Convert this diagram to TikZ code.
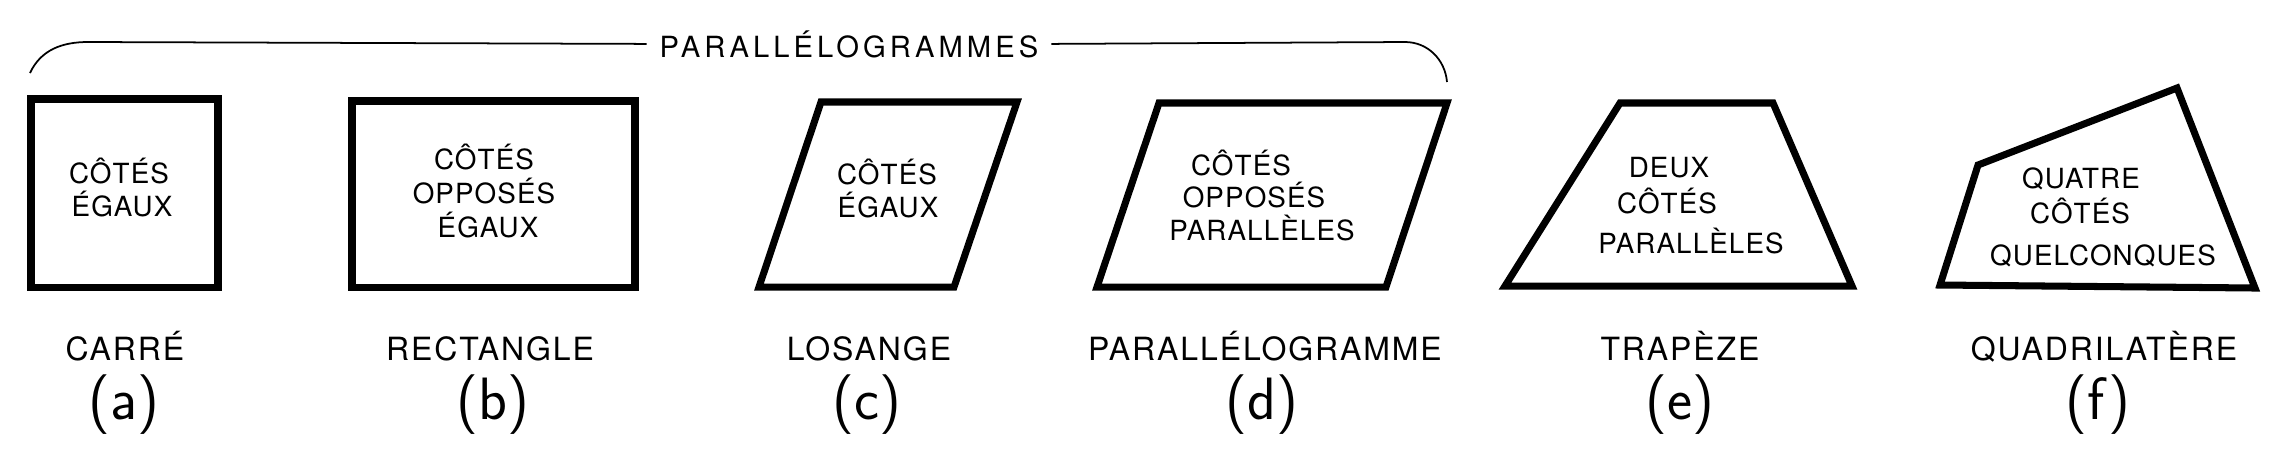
\documentclass[tikz,border=0pt]{standalone}
\usepackage{fontspec}
\usepackage{tikz}
\newfontfamily\titrefont[LetterSpace=14]{TeX Gyre Heros}
\newfontfamily\nomfont[LetterSpace=6]{TeX Gyre Heros}
\newfontfamily\textefont[LetterSpace=4]{TeX Gyre Heros}
\tikzstyle{forme} = [line width=2pt]
\tikzstyle{accolade} = [line width=0.5pt]
\tikzstyle{titre} = [font=\titrefont\fontsize{8.3}{10}\selectfont, anchor=base, inner xsep=3.5pt, inner ysep=0pt]
\tikzstyle{texte} = [font=\textefont\fontsize{7.9}{9}\selectfont, anchor=base, inner sep=0pt]
\tikzstyle{nom} = [font=\nomfont\fontsize{9.1}{11}\selectfont, anchor=base, inner sep=0pt]
\tikzstyle{lettre} = [font=\sffamily\fontsize{17}{20}\selectfont, anchor=base, inner sep=0pt]

\begin{document}
\begin{tikzpicture}[x=0.1mm, y=0.1mm]
	\useasboundingbox (0,0) rectangle (2291,460);
	% accolade des parallelogrammes
	\node[titre] (titre) at (849,403) {PARALLÉLOGRAMMES};
	\coordinate (gauche) at (30,387);
	\coordinate (droite) at (1447,378);
	\draw[accolade] (gauche) to[out=65,in=180] ++(58,31) -- (titre.west);
	\draw[accolade] (droite) to[out=95,in=0] ++(-42,40) -- (titre.east);
	% les six figures
	\draw[forme] (31,173) rectangle (218,361);
	\draw[forme] (352,173) rectangle (635,359);
	\draw[forme] (759,173) -- (954,173) -- (1017,358) -- (821,358) -- cycle;
	\draw[forme] (1097,173) -- (1386,173) -- (1447,357) -- (1159,357) -- cycle;
	\draw[forme] (1505,174) -- (1852,174) -- (1773,357) -- (1620,357) -- cycle;
	\draw[forme] (1940,175) -- (2255,172) -- (2177,372) -- (1978,295) -- cycle;
	% textes dans les figures
	\node[texte] (a1) at (119,277) {CÔTÉS};
	\node[texte] (a2) at (122,244) {ÉGAUX};
	\node[texte] (b1) at (484,291) {CÔTÉS};
	\node[texte] (b2) at (484,257) {OPPOSÉS};
	\node[texte] (b3) at (488,223) {ÉGAUX};
	\node[texte] (c1) at (887,276) {CÔTÉS};
	\node[texte] (c2) at (888,243) {ÉGAUX};
	\node[texte] (d1) at (1241,285) {CÔTÉS};
	\node[texte] (d2) at (1254,253) {OPPOSÉS};
	\node[texte] (d3) at (1262,220) {PARALLÈLES};
	\node[texte] (e1) at (1669,283) {DEUX};
	\node[texte] (e2) at (1667,247) {CÔTÉS};
	\node[texte] (e3) at (1691,207) {PARALLÈLES};
	\node[texte] (f1) at (2081,272) {QUATRE};
	\node[texte] (f2) at (2080,237) {CÔTÉS};
	\node[texte] (f3) at (2103,195) {QUELCONQUES};
	% noms et lettres
	\node[nom] (na) at (125,100) {CARRÉ};
	\node[nom] (nb) at (490,100) {RECTANGLE};
	\node[nom] (nc) at (869,100) {LOSANGE};
	\node[nom] (nd) at (1265,100) {PARALLÉLOGRAMME};
	\node[nom] (ne) at (1680,100) {TRAPÈZE};
	\node[nom] (nf) at (2104,100) {QUADRILATÈRE};
	\node[lettre] (la) at (124,41) {(a)};
	\node[lettre] (lb) at (493,41) {(b)};
	\node[lettre] (lc) at (867,41) {(c)};
	\node[lettre] (ld) at (1262,41) {(d)};
	\node[lettre] (le) at (1680,41) {(e)};
	\node[lettre] (lf) at (2098,41) {(f)};
\end{tikzpicture}
\end{document}
